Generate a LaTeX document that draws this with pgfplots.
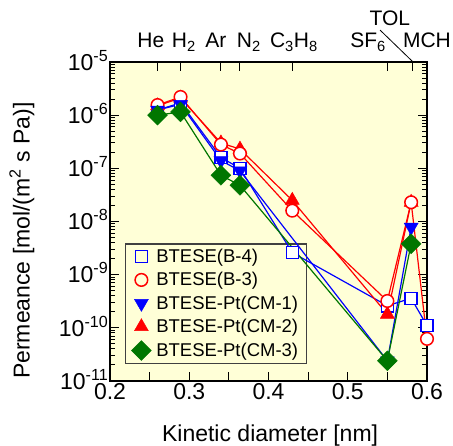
\documentclass[border=0pt]{standalone}
\usepackage{fontspec}
\setmainfont{Liberation Sans}
\usepackage{pgfplots}
\pgfplotsset{compat=1.18}
\definecolor{bgyellow}{RGB}{255,255,215}
\definecolor{mblue}{RGB}{0,0,255}
\definecolor{mred}{RGB}{255,0,0}
\definecolor{mgreen}{RGB}{0,118,0}
\begin{document}
\begin{tikzpicture}
\path[use as bounding box] (-110pt,-65pt) rectangle (343pt,381pt);
% frame, background, ticks and labels
\begin{axis}[
  at={(0,0)}, anchor=south west, scale only axis, width=317pt, height=319pt,
  xmin=0.2, xmax=0.6, ymode=log, ymin=1e-11, ymax=1e-5,
  clip=false,
  axis background/.style={fill=bgyellow},
  axis line style={line width=1.8pt},
  tick style={line width=1pt, black},
  tick align=inside,
  major tick length=9pt, minor tick length=5pt,
  xtick={0.2,0.25,0.3,0.35,0.4,0.45,0.5,0.55,0.6},
  xticklabels={0.2,,0.3,,0.4,,0.5,,0.6},
  xtick pos=left,
  ytick={1e-11,1e-10,1e-9,1e-8,1e-7,1e-6,1e-5},
  yticklabels={10\textsuperscript{-11},10\textsuperscript{-10},10\textsuperscript{-9},10\textsuperscript{-8},10\textsuperscript{-7},10\textsuperscript{-6},10\textsuperscript{-5}},
  minor ytick={2e-11,3e-11,4e-11,5e-11,6e-11,7e-11,8e-11,9e-11,
    2e-10,3e-10,4e-10,5e-10,6e-10,7e-10,8e-10,9e-10,
    2e-9,3e-9,4e-9,5e-9,6e-9,7e-9,8e-9,9e-9,
    2e-8,3e-8,4e-8,5e-8,6e-8,7e-8,8e-8,9e-8,
    2e-7,3e-7,4e-7,5e-7,6e-7,7e-7,8e-7,9e-7,
    2e-6,3e-6,4e-6,5e-6,6e-6,7e-6,8e-6,9e-6},
  tick label style={font=\fontsize{23}{26}\selectfont},
  xticklabel style={inner sep=2pt},
  yticklabel style={anchor=base east, inner sep=1.5pt, yshift=-8.2pt},
  xlabel={Kinetic diameter [nm]},
  xlabel style={at={(axis description cs:0.505,-0.191)}, anchor=base, font=\fontsize{23}{26}\selectfont},
  ylabel={Permeance [mol/(m\textsuperscript{2} s Pa)]},
  ylabel style={at={(axis description cs:-0.278,0.44)}, anchor=center, font=\fontsize{23}{26}\selectfont},
]
\begin{scope}[font=\fontsize{21}{24}\selectfont]
\node[anchor=base] at (axis description cs:0.129,1.044) {He};
\node[anchor=base] at (axis description cs:0.233,1.044) {H\textsubscript{2}};
\node[anchor=base] at (axis description cs:0.334,1.044) {Ar};
\node[anchor=base] at (axis description cs:0.438,1.044) {N\textsubscript{2}};
\node[anchor=base] at (axis description cs:0.580,1.044) {C\textsubscript{3}H\textsubscript{8}};
\node[anchor=base] at (axis description cs:0.814,1.044) {SF\textsubscript{6}};
\node[anchor=base] at (axis description cs:0.883,1.113) {TOL};
\node[anchor=base] at (axis description cs:1.0,1.044) {MCH};
\end{scope}
\draw[line width=0.8pt] (axis description cs:0.852,1.100) -- (axis description cs:0.956,1.0);
\end{axis}
% top ticks at the gases
\begin{axis}[
  at={(0,0)}, anchor=south west, scale only axis, width=317pt, height=319pt,
  xmin=0.2, xmax=0.6, ymin=0, ymax=1,
  hide y axis,
  axis line style={line width=1.8pt},
  tick style={line width=1pt, black},
  tick align=inside, major tick length=9pt,
  xtick pos=right,
  xtick={0.26,0.289,0.34,0.364,0.43,0.55,0.582},
  xticklabels={},
]
\end{axis}
% legend (below the data)
\begin{axis}[
  at={(0,0)}, anchor=south west, scale only axis, width=317pt, height=319pt,
  xmin=0.2, xmax=0.6, ymin=0, ymax=1,
  hide axis,
  legend style={at={(axis description cs:0.047,0.053)}, anchor=south west, fill=bgyellow, draw=black!75, line width=1.2pt, font=\fontsize{18.5}{22}\selectfont, row sep=4.5pt, column sep=3pt, inner xsep=6pt, inner ysep=3pt, nodes={text width=142pt}},
  legend cell align=left,
]
\addlegendimage{only marks, mark=square, mark size=6pt, mark options={mblue, line width=1.5pt}}
\addlegendentry{BTESE(B-4)}
\addlegendimage{only marks, mark=o, mark size=6.3pt, mark options={mred, line width=1.5pt}}
\addlegendentry{BTESE(B-3)}
\addlegendimage{only marks, mark=triangle*, mark size=8pt, mark options={mblue, fill=mblue, rotate=180, line width=0.5pt}}
\addlegendentry{BTESE-Pt(CM-1)}
\addlegendimage{only marks, mark=triangle*, mark size=8pt, mark options={mred, fill=mred, line width=0.5pt}}
\addlegendentry{BTESE-Pt(CM-2)}
\addlegendimage{only marks, mark=square*, mark size=7pt, mark options={mgreen, fill=mgreen, rotate=45, line width=0.5pt}}
\addlegendentry{BTESE-Pt(CM-3)}
\end{axis}
% data
\begin{axis}[
  at={(0,0)}, anchor=south west, scale only axis, width=317pt, height=319pt,
  xmin=0.2, xmax=0.6, ymode=log, ymin=1e-11, ymax=1e-5,
  hide axis, clip=false]
% BTESE(B-4)
\addplot[mblue, line width=1.2pt, mark=square*, mark size=6pt, mark options={fill=white, line width=1.5pt}] coordinates {
(0.26,1.25e-6)(0.289,1.7e-6)(0.34,1.6e-7)(0.364,1.0e-7)(0.43,2.6e-9)(0.55,2.6e-10)(0.58,3.6e-10)(0.60,1.1e-10)};
% BTESE-Pt(CM-2)
\addplot[mred, line width=1.2pt, mark=triangle*, mark size=8pt, mark options={fill=mred, line width=0.5pt}] coordinates {
(0.26,1.5e-6)(0.289,2.1e-6)(0.34,3.0e-7)(0.364,2.3e-7)(0.43,2.5e-8)(0.55,1.8e-10)(0.58,2.3e-8)};
% BTESE(B-3)
\addplot[mred, line width=1.2pt, mark=*, mark size=6.3pt, mark options={fill=white, line width=1.5pt}] coordinates {
(0.26,1.55e-6)(0.289,2.2e-6)(0.34,2.8e-7)(0.364,1.9e-7)(0.43,1.6e-8)(0.55,3.2e-10)(0.58,2.3e-8)(0.60,6.2e-11)};
% BTESE-Pt(CM-1)
\addplot[mblue, line width=1.2pt, mark=triangle*, mark size=8pt, mark options={fill=mblue, rotate=180, line width=0.5pt}] coordinates {
(0.26,1.25e-6)(0.289,1.6e-6)(0.34,1.4e-7)(0.364,9e-8)(0.55,2.4e-11)(0.58,7.8e-9)};
% BTESE-Pt(CM-3)
\addplot[mgreen, line width=1.2pt, mark=square*, mark size=7pt, mark options={fill=mgreen, rotate=45, line width=0.5pt}] coordinates {
(0.26,1e-6)(0.289,1.15e-6)(0.34,7.4e-8)(0.364,4.8e-8)(0.55,2.4e-11)(0.58,3.8e-9)};
\end{axis}
\end{tikzpicture}
\end{document}
